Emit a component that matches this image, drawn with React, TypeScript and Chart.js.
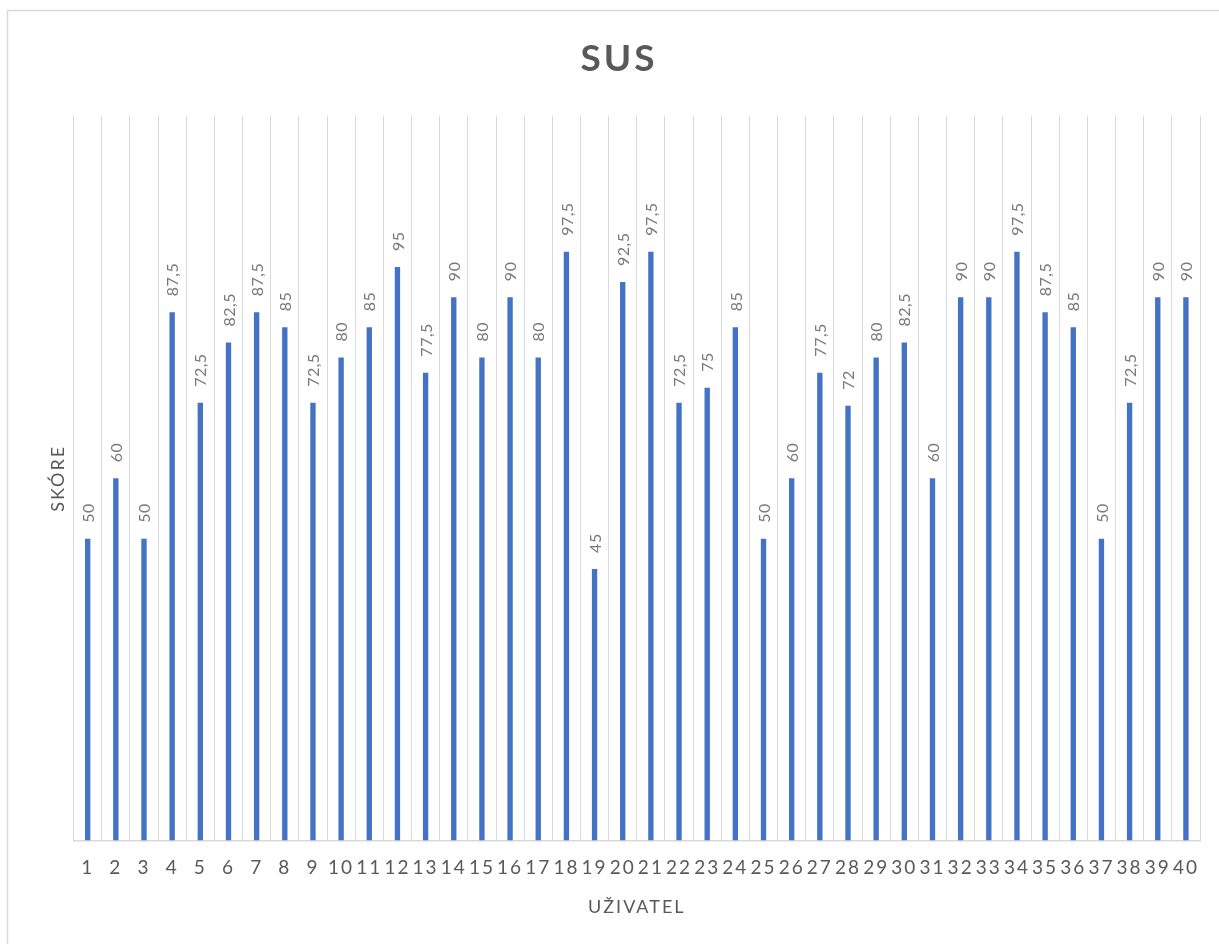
import React, { useEffect, useRef } from "react";
import { Chart, registerables } from "chart.js";

Chart.register(...registerables);

const users: string[] = [
  "1", "2", "3", "4", "5", "6", "7", "8", "9", "10",
  "11", "12", "13", "14", "15", "16", "17", "18", "19", "20",
  "21", "22", "23", "24", "25", "26", "27", "28", "29", "30",
  "31", "32", "33", "34", "35", "36", "37", "38", "39", "40",
];

const scores: number[] = [
  50, 60, 50, 87.5, 72.5, 82.5, 87.5, 85, 72.5, 80,
  85, 95, 77.5, 90, 80, 90, 80, 97.5, 45, 92.5,
  97.5, 72.5, 75, 85, 50, 60, 77.5, 72, 80, 82.5,
  60, 90, 90, 97.5, 87.5, 85, 50, 72.5, 90, 90,
];

const chartTitle = "SUS";
const xTitle = "UŽIVATEL";
const yTitle = "SKÓRE";

const FONT = "Lato, 'Open Sans', sans-serif";

const framePlugin = {
  id: "frame",
  beforeDraw(chart: any) {
    const ctx = chart.ctx;
    ctx.save();
    ctx.strokeStyle = "#d9d9d9";
    ctx.lineWidth = 1.5;
    ctx.beginPath();
    ctx.moveTo(7.5, 960);
    ctx.lineTo(7.5, 10.5);
    ctx.lineTo(1240, 10.5);
    ctx.stroke();
    ctx.fillStyle = "#595959";
    ctx.font = `bold 37px ${FONT}`;
    (ctx as any).letterSpacing = "3px";
    ctx.textAlign = "center";
    ctx.textBaseline = "middle";
    ctx.fillText(chartTitle, 619, 59);
    ctx.restore();
    (ctx as any).letterSpacing = "2px";
  },
  beforeDatasetsDraw(chart: any) {
    (chart.ctx as any).letterSpacing = "0px";
  },
};

const labelPlugin = {
  id: "barLabels",
  afterDatasetsDraw(chart: any) {
    const ctx = chart.ctx;
    const meta = chart.getDatasetMeta(0);
    ctx.save();
    (ctx as any).letterSpacing = "0.5px";
    ctx.fillStyle = "#7a7a7a";
    ctx.font = `16px ${FONT}`;
    ctx.textAlign = "left";
    ctx.textBaseline = "middle";
    meta.data.forEach((bar: any, i: number) => {
      const v = chart.data.datasets[0].data[i] as number;
      const text = String(v).replace(".", ",");
      ctx.save();
      ctx.translate(bar.x + 1, bar.y - 16);
      ctx.rotate(-Math.PI / 2);
      ctx.fillText(text, 0, 0);
      ctx.restore();
    });
    ctx.restore();
  },
};

export default function App() {
  const ref = useRef<HTMLCanvasElement | null>(null);

  useEffect(() => {
    if (!ref.current) return;
    const chart = new Chart(ref.current, {
      type: "bar",
      data: {
        labels: users,
        datasets: [
          {
            data: scores,
            backgroundColor: "#4472c4",
            borderWidth: 0,
            barPercentage: 1,
            categoryPercentage: 0.19,
          },
        ],
      },
      options: {
        animation: false,
        responsive: false,
        devicePixelRatio: 1,
        layout: { padding: { left: 47, right: 19, top: 116, bottom: 26 } },
        plugins: {
          legend: { display: false },
          title: { display: false },
          tooltip: { enabled: false },
        },
        scales: {
          x: {
            offset: true,
            grid: {
              display: true,
              offset: true,
              color: "#d9d9d9",
              lineWidth: 1,
              drawTicks: false,
            },
            border: { display: true, color: "#d9d9d9", width: 1.5 },
            ticks: {
              color: "#595959",
              font: { family: FONT, size: 19 },
              padding: 16,
              autoSkip: false,
              maxRotation: 0,
              minRotation: 0,
            },
            title: {
              display: true,
              text: xTitle,
              color: "#595959",
              font: { family: FONT, size: 18 },
              padding: { top: 1, bottom: 0 },
            },
          },
          y: {
            min: 0,
            max: 120,
            grid: { display: false, drawTicks: false },
            border: { display: false },
            ticks: { display: false },
            title: {
              display: true,
              text: yTitle,
              color: "#595959",
              font: { family: FONT, size: 18 },
              padding: { top: 0, bottom: 5 },
            },
          },
        },
      },
      plugins: [framePlugin, labelPlugin],
    });
    return () => chart.destroy();
  }, []);

  return (
    <div style={{ position: "fixed", left: 0, top: 0, width: 1219, height: 944, background: "#fff" }}>
      <canvas ref={ref} width={1219} height={944} style={{ display: "block" }} />
    </div>
  );
}
